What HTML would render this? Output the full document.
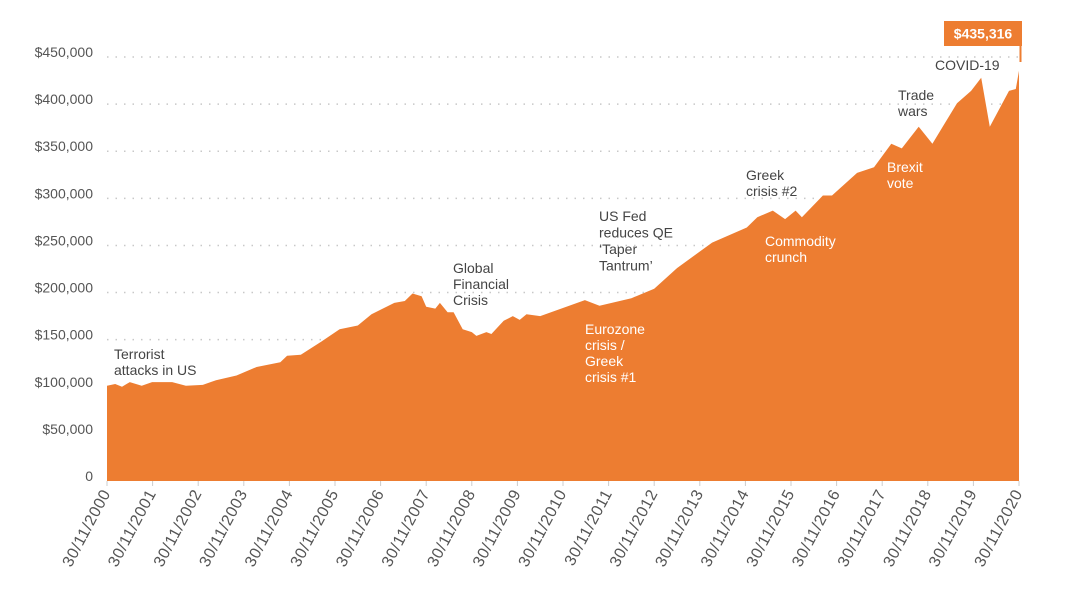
<!DOCTYPE html>
<html><head><meta charset="utf-8"><style>
body{margin:0;background:#fff;}
svg{display:block;font-family:"Liberation Sans",sans-serif;}
</style></head><body>
<svg id="chart" width="1080" height="600"></svg>
<script>
const tickLabels=["30/11/2000","30/11/2001","30/11/2002","30/11/2003","30/11/2004","30/11/2005","30/11/2006","30/11/2007","30/11/2008","30/11/2009","30/11/2010","30/11/2011","30/11/2012","30/11/2013","30/11/2014","30/11/2015","30/11/2016","30/11/2017","30/11/2018","30/11/2019","30/11/2020"];
const yTicks=[0,50000,100000,150000,200000,250000,300000,350000,400000,450000];
const times=[0,0.18,0.33,0.5,0.76,0.99,1.43,1.73,2.1,2.39,2.84,3.28,3.8,3.95,4.25,4.7,5.1,5.5,5.8,6.3,6.53,6.7,6.9,7.0,7.2,7.3,7.47,7.6,7.8,8.0,8.1,8.32,8.43,8.7,8.9,9.05,9.2,9.5,10.48,10.8,11.5,12.0,12.5,13.27,14.03,14.26,14.6,14.87,15.1,15.24,15.7,15.9,16.45,16.82,17.2,17.43,17.8,18.1,18.64,18.95,19.17,19.36,19.78,19.93,20.0];
const values=[101000,103000,100000,105000,101000,105000,105000,101000,102000,107000,112000,121000,126000,133000,134000,148000,161000,165000,177000,189000,191000,199000,196000,185000,183000,189000,179000,179000,161000,158000,154000,158000,156000,170000,175000,171000,177000,175000,192000,186000,194000,204000,226000,253000,269000,280000,287000,278000,287000,280000,303000,303000,327000,333000,358000,353000,376000,358000,401000,414000,428000,376000,414000,416000,435316];
const NS="http://www.w3.org/2000/svg";
const svg=document.getElementById("chart");
const X0=107,X1=1019,Y0=481,Y450=57;
const xs=t=>X0+(X1-X0)*t/20;
const ys=v=>Y0-(Y0-Y450)*v/450000;
function mk(tag,attrs,parent){const e=document.createElementNS(NS,tag);for(const k in attrs)e.setAttribute(k,attrs[k]);(parent||svg).appendChild(e);return e;}
yTicks.forEach(v=>{
  if(v>0){const g=mk("line",{x1:X0,x2:X1,y1:ys(v),y2:ys(v),stroke:"#c8c8c8","stroke-width":1.5,"stroke-dasharray":"1.5 7"});
  
  }
  const t=mk("text",{x:93,y:ys(v),"text-anchor":"end",fill:"#555","font-size":14});
  
  
  t.textContent=v===0?"0":"$"+v.toLocaleString("en-US");
});
let d="M"+xs(times[0])+","+Y0;
times.forEach((t,i)=>{d+=" L"+xs(t).toFixed(1)+","+ys(values[i]).toFixed(1);});
d+=" L"+xs(times[times.length-1])+","+Y0+" Z";
const area=mk("path",{d:d,fill:"#ED7D31"});


tickLabels.forEach((lab,i)=>{
  const x=xs(i);
  const tk=mk("line",{x1:x,x2:x,y1:Y0,y2:Y0+5,stroke:"#ccc"});
  
  
  const ax=x+4,ay=Y0+12;
  const t=mk("text",{x:ax,y:ay,"text-anchor":"end",fill:"#555","font-size":16,"letter-spacing":0.6,transform:"rotate(-62 "+ax+" "+ay+")"});
  
  
  t.textContent=lab;
});
</script>
<svg style="position:absolute;left:0;top:0" width="1080" height="600">
<g font-family="Liberation Sans, sans-serif" font-size="14">
<text x="114" y="359" fill="#444"><tspan x="114">Terrorist</tspan><tspan x="114" dy="16">attacks in US</tspan></text>
<text x="453" y="273" fill="#444"><tspan x="453">Global</tspan><tspan x="453" dy="16">Financial</tspan><tspan x="453" dy="16">Crisis</tspan></text>
<text x="599" y="221" fill="#444"><tspan x="599">US Fed</tspan><tspan x="599" dy="16.5">reduces QE</tspan><tspan x="599" dy="16.5">‘Taper</tspan><tspan x="599" dy="16.5">Tantrum’</tspan></text>
<text x="585" y="334" fill="#fff"><tspan x="585">Eurozone</tspan><tspan x="585" dy="16">crisis /</tspan><tspan x="585" dy="16">Greek</tspan><tspan x="585" dy="16">crisis #1</tspan></text>
<text x="746" y="180" fill="#444"><tspan x="746">Greek</tspan><tspan x="746" dy="16">crisis #2</tspan></text>
<text x="765" y="246" fill="#fff"><tspan x="765">Commodity</tspan><tspan x="765" dy="16">crunch</tspan></text>
<text x="887" y="172" fill="#fff"><tspan x="887">Brexit</tspan><tspan x="887" dy="16">vote</tspan></text>
<text x="898" y="100" fill="#444"><tspan x="898">Trade</tspan><tspan x="898" dy="16">wars</tspan></text>
<text x="935" y="70" fill="#444">COVID-19</text>
</g>
<rect x="944" y="21" width="78" height="25" fill="#ED7D31"/>
<line x1="1020.5" y1="44" x2="1020.5" y2="62" stroke="#ED7D31" stroke-width="2"/>
<text x="983" y="38.5" text-anchor="middle" fill="#fff" font-weight="bold" font-size="14" font-family="Liberation Sans, sans-serif">$435,316</text>
</svg>
</body></html>
